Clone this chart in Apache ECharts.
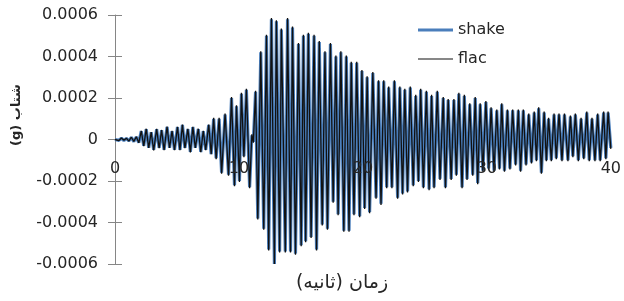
<!DOCTYPE html>
<html>
<head>
<meta charset="utf-8">
<script src="https://cdn.jsdelivr.net/npm/echarts@6/dist/echarts.min.js"></script>
<style>
  html, body { margin: 0; padding: 0; background: #fff; }
  #chart { width: 624px; height: 301px; }
</style>
</head>
<body>
<div id="chart"></div>
<script>
    // accelerations are kept in units of 1e-5 g, times in seconds
    const UNIT = 1e-5
    const time = [
        0, 0.12, 0.32, 0.52, 0.72, 0.92, 1.12, 1.32, 1.52, 1.72, 1.92, 2.12, 2.32, 2.52, 2.72, 2.92,
        3.12, 3.36, 3.56, 3.76, 3.96, 4.2, 4.4, 4.6, 4.8, 5.04, 5.24, 5.44, 5.64, 5.88, 6.08, 6.28, 6.48, 6.72, 6.92, 7.12, 7.32, 7.56, 7.76, 7.96,
        8.16, 8.4, 8.6, 8.88, 9.16, 9.4, 9.64, 9.8, 10.04, 10.2, 10.4, 10.6, 10.86, 11.04, 11.16, 11.34, 11.52, 11.76, 12.0, 12.22, 12.4, 12.62, 12.86, 13.02, 13.28, 13.42, 13.74, 13.92, 14.16, 14.32, 14.56,
        14.8, 15.02, 15.2, 15.38, 15.6, 15.82, 16.06, 16.26, 16.48, 16.72, 16.94, 17.14, 17.38, 17.6, 17.82, 18.0, 18.22, 18.46, 18.66, 18.88, 19.06, 19.28, 19.5, 19.74, 19.92, 20.14,
        20.34, 20.54, 20.8, 21.06, 21.26, 21.46, 21.68, 21.92, 22.08, 22.34, 22.54, 22.8, 22.98, 23.2, 23.38, 23.6, 23.82, 24.06, 24.26, 24.48, 24.66, 24.88, 25.12, 25.34, 25.54, 25.74, 26.0, 26.22,
        26.48, 26.66, 26.88, 27.12, 27.34, 27.54, 27.74, 28.0, 28.18, 28.4, 28.62, 28.86, 29.06, 29.26, 29.46, 29.68, 29.92, 30.14, 30.34, 30.58, 30.8, 31.02, 31.2, 31.42, 31.66, 31.86, 32.08, 32.32,
        32.54, 32.72, 32.94, 33.16, 33.38, 33.6, 33.82, 34.0, 34.18, 34.4, 34.62, 34.8, 34.98, 35.2, 35.42, 35.6, 35.82, 36.06, 36.26, 36.54, 36.74, 36.94, 37.14, 37.38, 37.6, 37.82, 38.06, 38.26, 38.48, 38.72, 38.94, 39.14, 39.42, 39.6, 39.78, 40.0
    ]
    const shake = [
        0, 0.4, -0.4, 0.6, -0.5, 0.5, -0.7, 1, -1, 1.2, -1.5, 4, -3, 5, -4, 3.5,
        -5, 5, -4, 4.5, -5, 6, -4, 4, -5, 6, -5, 7, -4, 5, -6, 6, -4, 5, -6, 4, -5, 7, -7, 10,
        -9, 10, -16, 12, -17, 20, -22, 16, -20, 22, -8, 24, -23, 2, -1, 23, -38, 42, -43, 50, -53, 58, -60, 57, -54, 53, -54, 58, -54, 54, -55,
        46, -51, 50, -49, 51, -47, 50, -53, 47, -41, 42, -43, 46, -30, 40, -36, 42, -44, 40, -44, 37, -36, 37, -37, 33, -33,
        30, -35, 32, -28, 28, -31, 28, -23, 25, -23, 28, -28, 25, -26, 24, -25, 25, -22, 21, -20, 24, -23, 23, -24, 21, -23, 23, -19,
        20, -23, 19, -19, 19, -17, 22, -23, 21, -19, 17, -17, 20, -21, 17, -15, 18, -14, 15, -15, 14, -14, 17, -15, 14, -14, 14, -12,
        14, -15, 14, -12, 12, -11, 13, -10, 15, -16, 13, -10, 10, -10, 12, -9, 12, -10, 12, -10, 11, -8, 12, -10, 10, -9, 13, -10, 10, -10, 12, -10, 13, -9, 13, -4
    ]
    const flac = [
        0, 0.3, -0.5, 0.7, -0.4, 0.6, -0.8, 1.1, -0.9, 1.3, -1.6, 4.2, -3.2, 5.2, -4.1, 3.6,
        -5.2, 5.1, -4.2, 4.6, -5.1, 6.2, -4.1, 4.2, -5.2, 6.1, -5.1, 7.2, -4.2, 5.1, -6.2, 6.1, -4.1, 5.2, -6.1, 4.2, -5.1, 7.2, -7.1, 10.5,
        -9.5, 10.5, -16.5, 12.5, -17.5, 20.5, -22.5, 16.5, -20.5, 22.5, -8.5, 24.5, -23.5, 2.5, -1.5, 23.5, -38.5, 42.5, -43.5, 50.5, -53.5, 58.5, -60, 57.5, -54.5, 53.5, -54.5, 58.5, -54.5, 54.5, -55.5,
        46.5, -51.5, 50.5, -49.5, 51.5, -47.5, 50.5, -53.5, 47.5, -41.5, 42.5, -43.5, 46.5, -30.5, 40.5, -36.5, 42.5, -44.5, 40.5, -44.5, 37.5, -36.5, 37.5, -37.5, 33.5, -33.5,
        30.5, -35.5, 32.5, -28.5, 28.5, -31.5, 28.5, -23.5, 25.5, -23.5, 28.5, -28.5, 25.5, -26.5, 24.5, -25.5, 25.5, -22.5, 21.5, -20.5, 24.5, -23.5, 23.5, -24.5, 21.5, -23.5, 23.5, -19.5,
        20.5, -23.5, 19.5, -19.5, 19.5, -17.5, 22.5, -23.5, 21.5, -19.5, 17.5, -17.5, 20.5, -21.5, 17.5, -15.5, 18.5, -14.5, 15.5, -15.5, 14.5, -14.5, 17.5, -15.5, 14.5, -14.5, 14.5, -12.5,
        14.5, -15.5, 14.5, -12.5, 12.5, -11.5, 13.5, -10.5, 15.5, -16.5, 13.5, -10.5, 10.5, -10.5, 12.5, -9.5, 12.5, -10.5, 12.5, -10.5, 11.5, -8.5, 12.5, -10.5, 10.5, -9.5, 13.5, -10.5, 10.5, -10.5, 12.5, -10.5, 13.5, -9.5, 13.5, -4.5
    ]
    const xTicks = { min: 0, max: 40, interval: 10 }
    const yTicks = { min: -0.0006, max: 0.0006, interval: 0.0002 }
    const xTitle = 'زمان (ثانیه)'
    const yTitle = '(g) شتاب'

    const toPairs = vals => time.map((t, i) => [t, vals[i] * UNIT])
    const fmtY = v => Math.abs(v) < 1e-9 ? '0' : v.toFixed(4)
    const font = 'DejaVu Sans'
    const axisGray = '#868686'
    const blue = '#4a7ebb'
    const ink = '#111'

    // grid geometry: plot from y=15 to y=264, so the zero line sits half way up
    const gridTop = 15
    const gridBottom = 37
    const plotH = 301 - gridTop - gridBottom

    const legendBase = {
        orient: 'vertical',
        left: 413,
        icon: 'rect',
        itemWidth: 35,
        textStyle: { fontSize: 16, color: '#262626' }
    }

    let option = {
        animation: false,
        textStyle: { fontFamily: font },
        grid: { left: 115, right: 9, top: gridTop, bottom: gridBottom },
        legend: [
            Object.assign({}, legendBase, { top: 17, itemHeight: 3, data: ['shake'] }),
            Object.assign({}, legendBase, { top: 46, itemHeight: 1, data: ['flac'] })
        ],
        xAxis: {
            type: 'value',
            min: xTicks.min,
            max: xTicks.max,
            interval: xTicks.interval,
            offset: -plotH / 2,
            zlevel: 1,   // labels sit on top of the trace, like the original
            axisLine: { show: false, onZero: false },
            axisTick: { show: false },
            splitLine: { show: false },
            axisLabel: { margin: 21, fontSize: 16, color: '#262626' }
        },
        yAxis: [{
            type: 'value',
            min: yTicks.min,
            max: yTicks.max,
            interval: yTicks.interval,
            axisLine: { show: true, onZero: false, lineStyle: { color: axisGray, width: 1 } },
            axisTick: { show: true, length: 7, lineStyle: { color: axisGray } },
            splitLine: { show: false },
            axisLabel: { margin: 17, fontSize: 16, color: '#262626', formatter: fmtY }
        }, {
            // second axis only for the inner half of the crossing tick marks
            type: 'value',
            position: 'left',
            min: yTicks.min,
            max: yTicks.max,
            interval: yTicks.interval,
            axisLine: { show: false, onZero: false },
            axisTick: { show: true, inside: true, length: 7, lineStyle: { color: axisGray } },
            axisLabel: { show: false },
            splitLine: { show: false }
        }],
        graphic: [{
            type: 'text',
            x: 342,
            y: 283,
            style: {
                text: xTitle,
                font: '19px "DejaVu Sans"',
                fill: '#262626',
                align: 'center',
                verticalAlign: 'middle'
            }
        }, {
            type: 'text',
            x: 17,
            y: 115,
            rotation: Math.PI / 2,
            style: {
                text: yTitle,
                font: 'bold 13px "DejaVu Sans"',
                fill: '#262626',
                align: 'center',
                verticalAlign: 'middle'
            }
        }],
        series: [{
            name: 'shake',
            type: 'line',
            symbol: 'none',
            lineStyle: { color: blue, width: 3.2 },
            itemStyle: { color: blue },
            data: toPairs(shake),
            z: 2
        }, {
            name: 'flac',
            type: 'line',
            symbol: 'none',
            lineStyle: { color: ink, width: 1.3 },
            itemStyle: { color: ink },
            data: toPairs(flac),
            z: 3
        }]
    }

    const EC = echarts.init(document.getElementById('chart'))
    EC.setOption(option)
</script>
</body>
</html>
